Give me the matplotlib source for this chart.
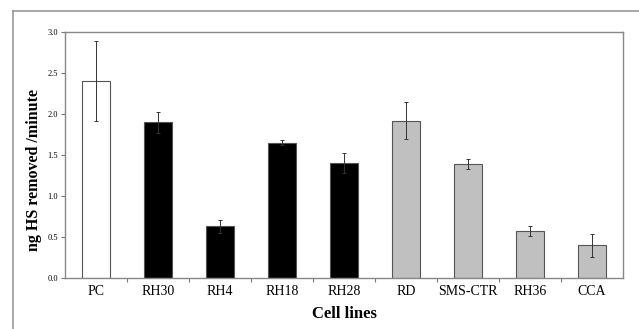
import matplotlib.pyplot as plt
from matplotlib.lines import Line2D

cells = ['PC', 'RH30', 'RH4', 'RH18', 'RH28', 'RD', 'SMS-CTR', 'RH36', 'CCA']
values = [2.40, 1.90, 0.63, 1.65, 1.40, 1.92, 1.39, 0.57, 0.40]
errors = [0.49, 0.13, 0.08, 0.03, 0.12, 0.23, 0.06, 0.06, 0.14]
colors = ['white', 'black', 'black', 'black', 'black',
          '#c0c0c0', '#c0c0c0', '#c0c0c0', '#c0c0c0']

plt.rcParams['font.family'] = ['Liberation Serif', 'DejaVu Serif']

fig = plt.figure(figsize=(6.39, 3.29), dpi=100)
ax = fig.add_axes([65 / 639, 1 - 278 / 329, 558 / 639, 246 / 329])

x = range(len(cells))
ax.bar(x, values, width=0.44, color=colors, edgecolor='#555555', linewidth=0.8,
       yerr=errors, error_kw=dict(ecolor='#333333', elinewidth=0.7, capsize=1.2, capthick=0.7))

ax.set_xlim(-0.5, len(cells) - 0.5)
ax.set_ylim(0, 3.0)
ax.set_yticks([0.0, 0.5, 1.0, 1.5, 2.0, 2.5, 3.0])
ax.set_yticklabels(['0.0', '0.5', '1.0', '1.5', '2.0', '2.5', '3.0'], fontsize=6)
ax.set_xticks([i + 0.5 for i in range(len(cells) - 1)])
ax.set_xticklabels([])
ax.set_xticks(list(x), minor=True)
ax.set_xticklabels(cells, minor=True, fontsize=10)
ax.tick_params(axis='x', which='minor', length=0, pad=5)
ax.tick_params(axis='x', which='major', length=3, color='#777777')
ax.tick_params(axis='y', length=3, color='#777777', pad=2)

for s in ax.spines.values():
    s.set_color('#888888')
    s.set_linewidth(1.0)

ax.set_ylabel('ng HS removed /minute', fontsize=11.5, fontweight='bold')
ax.yaxis.set_label_coords(-0.042, 0.44)
ax.set_xlabel('Cell lines', fontsize=12, fontweight='bold', labelpad=6)

fig.add_artist(Line2D([13 / 639, 13 / 639], [0, 1 - 11 / 329], color='#999999', lw=1.2))
fig.add_artist(Line2D([13 / 639, 1], [1 - 11 / 329, 1 - 11 / 329], color='#999999', lw=1.2))

fig.savefig('out.png', dpi=100)
